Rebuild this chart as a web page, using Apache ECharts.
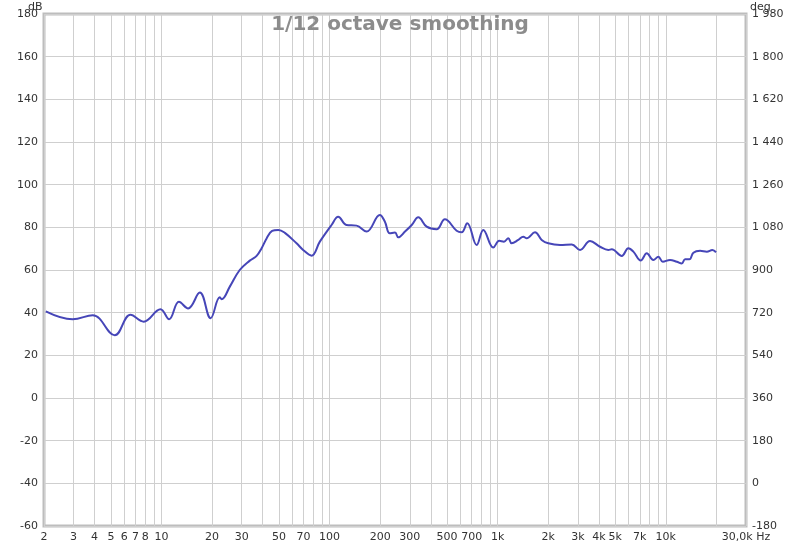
<!DOCTYPE html>
<html>
<head>
<meta charset="utf-8">
<script src="https://cdn.jsdelivr.net/npm/echarts@6/dist/echarts.min.js"></script>
<style>html,body{margin:0;padding:0;background:#fff}#c{width:800px;height:545px}</style>
</head>
<body>
<div id="c"></div>
<script>
const freqHz = [2.05,2.96,3.90,5.27,6.54,7.84,9.86,11.1,12.7,14.4,16.9,19.6,22.2,22.8,25.5,29.2,33.5,36.8,39.4,42.2,45.5,49.5,54.2,63.6,69.6,78.1,87.5,102.7,112.5,126,144.7,166,199,213,228,245,256,281,308,337,378,433,485,570,610,659,750,821,941,1022,1090,1156,1211,1326,1420,1488,1667,1827,2000,2348,2757,3088,3542,4062,4551,4769,5470,5988,6413,7096,7704,8434,9032,9594,10602,11625,12446,13025,13818,14590,15997,17536,18924,19908];
const splDb = [40.6,36.9,38.8,29.4,39.0,35.8,41.6,36.9,45.1,42.0,49.4,37.4,47.2,46.3,52.2,60.0,64.4,66.6,70.2,74.8,78.3,78.8,77.4,72.5,69.4,66.7,73.3,81.1,85.0,81.1,80.8,78.0,85.8,82.7,77.2,77.6,75.3,78.0,81.1,84.7,80.3,79.1,83.8,78.4,77.7,81.9,71.7,78.75,70.5,73.7,73.3,74.9,72.5,74.1,75.6,74.9,77.7,74.1,72.5,71.7,72.0,69.4,73.6,70.9,69.4,69.7,66.6,70.2,68.6,64.4,67.8,64.7,66.2,63.9,64.7,63.9,63.1,65.0,65.0,68.1,69.0,68.6,69.4,68.3];
const xGridValues = [2,3,4,5,6,7,8,9,10,20,30,40,50,60,70,80,90,100,200,300,400,500,600,700,800,900,1000,2000,3000,4000,5000,6000,7000,8000,9000,10000,20000,30000];
const xLabelValues = [2,3,4,5,6,7,8,10,20,30,50,70,100,200,300,500,700,1000,2000,3000,4000,5000,7000,10000,30000];
const titleText = '1/12 octave smoothing';

const chart = echarts.init(document.getElementById('c'), null, {renderer: 'canvas'});
const lblFont = {color: '#333', fontSize: 11, fontFamily: 'DejaVu Sans'};
function fmtHz(v) {
  v = Math.round(v);
  if (v === 30000) return '30,0k Hz';
  if (v >= 1000) return (v / 1000) + 'k';
  return String(v);
}
function fmtDeg(v) {
  const s = String(Math.abs(v));
  const t = s.length > 3 ? s.slice(0, s.length - 3) + ' ' + s.slice(-3) : s;
  return (v < 0 ? '-' : '') + t;
}
chart.setOption({
  animation: false,
  backgroundColor: '#fff',
  title: {
    text: titleText, left: 'center', top: 10,
    textStyle: {color: '#8c8c8c', fontSize: 20, fontWeight: 'bold', fontFamily: 'DejaVu Sans'}
  },
  grid: {left: 44, right: 54, top: 14, bottom: 19, show: true, borderColor: '#bdbdbd', borderWidth: 3, containLabel: false},
  xAxis: {
    type: 'log', logBase: 10, min: 2, max: 30000,
    axisLine: {show: false},
    axisTick: {show: false, customValues: xGridValues},
    splitLine: {show: true, lineStyle: {color: '#cfcfcf', width: 1}},
    axisLabel: Object.assign({customValues: xLabelValues, formatter: fmtHz, margin: 6}, lblFont)
  },
  yAxis: [
    {
      type: 'value', min: -60, max: 180, interval: 20,
      axisLine: {show: false}, axisTick: {show: false},
      splitLine: {show: true, lineStyle: {color: '#cfcfcf', width: 1}},
      axisLabel: Object.assign({margin: 6}, lblFont)
    },
    {
      type: 'value', min: -180, max: 1980, interval: 180, position: 'right',
      axisLine: {show: false}, axisTick: {show: false}, splitLine: {show: false},
      axisLabel: Object.assign({margin: 6, formatter: fmtDeg}, lblFont)
    }
  ],
  graphic: [
    {type: 'text', left: 28, top: 2, style: {text: 'dB', fill: '#333', font: '11px DejaVu Sans'}},
    {type: 'text', left: 750, top: 2, style: {text: 'deg', fill: '#333', font: '11px DejaVu Sans'}}
  ],
  series: [{
    type: 'line',
    data: freqHz.map((f, i) => [f, splDb[i]]),
    showSymbol: false,
    smooth: 0.4,
    lineStyle: {color: '#4646b8', width: 2},
    z: 5
  }]
});
</script>
</body>
</html>
